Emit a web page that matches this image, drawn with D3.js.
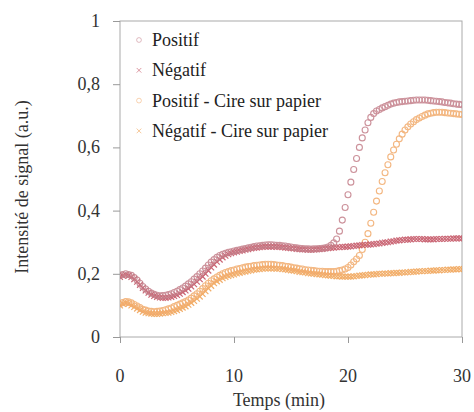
<!DOCTYPE html>
<html>
<head>
<meta charset="utf-8">
<script src="https://cdn.jsdelivr.net/npm/d3@7/dist/d3.min.js"></script>
<style>
  html, body { margin: 0; padding: 0; background: #fff; }
  svg { display: block; }
</style>
</head>
<body>
<svg id="chart" width="474" height="412"></svg>
<script>
// Signal intensity (a.u.) sampled every 0.25 min from 0 to 30 min
const sampleStep = 0.25;

const positif = [
  0.195, 0.198, 0.200, 0.198, 0.195, 0.188, 0.180, 0.170, 0.160, 0.152, 0.145, 0.139,
  0.135, 0.132, 0.130, 0.131, 0.132, 0.134, 0.137, 0.141, 0.145, 0.150, 0.155, 0.161,
  0.168, 0.175, 0.183, 0.191, 0.200, 0.209, 0.218, 0.228, 0.237, 0.245, 0.252, 0.258,
  0.262, 0.265, 0.268, 0.270, 0.272, 0.274, 0.276, 0.278, 0.280, 0.282, 0.284, 0.286,
  0.288, 0.289, 0.290, 0.291, 0.292, 0.292, 0.291, 0.290, 0.290, 0.289, 0.288, 0.286,
  0.285, 0.283, 0.282, 0.281, 0.280, 0.279, 0.279, 0.278, 0.279, 0.279, 0.280, 0.281,
  0.282, 0.285, 0.290, 0.298, 0.310, 0.335, 0.370, 0.410, 0.450, 0.490, 0.530, 0.565,
  0.600, 0.630, 0.655, 0.678, 0.695, 0.707, 0.715, 0.720, 0.725, 0.729, 0.733, 0.737,
  0.740, 0.742, 0.744, 0.745, 0.746, 0.747, 0.748, 0.749, 0.750, 0.750, 0.750, 0.750,
  0.749, 0.748, 0.747, 0.746, 0.745, 0.744, 0.742, 0.741, 0.740, 0.738, 0.737, 0.736,
  0.735
];

const negatif = [
  0.190, 0.194, 0.197, 0.194, 0.190, 0.183, 0.175, 0.165, 0.155, 0.147, 0.140, 0.134,
  0.130, 0.127, 0.125, 0.124, 0.124, 0.125, 0.127, 0.130, 0.133, 0.137, 0.142, 0.147,
  0.153, 0.160, 0.167, 0.175, 0.183, 0.191, 0.200, 0.210, 0.220, 0.229, 0.238, 0.245,
  0.252, 0.257, 0.262, 0.265, 0.268, 0.270, 0.272, 0.274, 0.276, 0.278, 0.280, 0.282,
  0.283, 0.284, 0.285, 0.286, 0.286, 0.286, 0.286, 0.285, 0.285, 0.284, 0.283, 0.282,
  0.281, 0.280, 0.279, 0.278, 0.277, 0.277, 0.276, 0.276, 0.277, 0.277, 0.278, 0.279,
  0.280, 0.281, 0.282, 0.283, 0.284, 0.284, 0.285, 0.285, 0.286, 0.287, 0.288, 0.289,
  0.290, 0.291, 0.292, 0.292, 0.293, 0.294, 0.295, 0.296, 0.298, 0.299, 0.300, 0.302,
  0.303, 0.305, 0.306, 0.307, 0.308, 0.308, 0.309, 0.310, 0.310, 0.310, 0.310, 0.309,
  0.309, 0.309, 0.309, 0.310, 0.310, 0.310, 0.311, 0.311, 0.311, 0.312, 0.312, 0.312,
  0.312
];

const positifCire = [
  0.105, 0.109, 0.112, 0.111, 0.108, 0.103, 0.098, 0.093, 0.088, 0.085, 0.082, 0.081,
  0.080, 0.081, 0.082, 0.084, 0.086, 0.089, 0.092, 0.096, 0.100, 0.104, 0.108, 0.112,
  0.117, 0.123, 0.130, 0.137, 0.145, 0.153, 0.162, 0.170, 0.178, 0.184, 0.190, 0.195,
  0.200, 0.204, 0.207, 0.210, 0.212, 0.215, 0.217, 0.219, 0.221, 0.223, 0.224, 0.226,
  0.227, 0.228, 0.229, 0.230, 0.230, 0.230, 0.229, 0.228, 0.227, 0.226, 0.224, 0.223,
  0.221, 0.219, 0.218, 0.216, 0.215, 0.213, 0.212, 0.211, 0.210, 0.209, 0.208, 0.208,
  0.207, 0.207, 0.207, 0.207, 0.208, 0.210, 0.212, 0.215, 0.220, 0.228, 0.238, 0.247,
  0.258, 0.277, 0.300, 0.327, 0.360, 0.395, 0.430, 0.462, 0.492, 0.520, 0.545, 0.570,
  0.592, 0.610, 0.627, 0.642, 0.655, 0.665, 0.674, 0.681, 0.688, 0.693, 0.698, 0.702,
  0.706, 0.708, 0.710, 0.711, 0.711, 0.711, 0.710, 0.709, 0.708, 0.707, 0.706, 0.705,
  0.704
];

const negatifCire = [
  0.100, 0.105, 0.108, 0.105, 0.100, 0.095, 0.090, 0.085, 0.080, 0.077, 0.075, 0.074,
  0.073, 0.073, 0.074, 0.075, 0.076, 0.077, 0.079, 0.082, 0.085, 0.089, 0.093, 0.097,
  0.102, 0.108, 0.114, 0.121, 0.128, 0.136, 0.145, 0.154, 0.162, 0.170, 0.176, 0.181,
  0.186, 0.190, 0.193, 0.196, 0.198, 0.201, 0.203, 0.205, 0.207, 0.209, 0.211, 0.213,
  0.214, 0.215, 0.216, 0.217, 0.217, 0.217, 0.217, 0.216, 0.216, 0.215, 0.214, 0.212,
  0.211, 0.210, 0.208, 0.206, 0.205, 0.204, 0.202, 0.201, 0.200, 0.199, 0.198, 0.197,
  0.196, 0.195, 0.194, 0.193, 0.192, 0.192, 0.191, 0.191, 0.191, 0.191, 0.192, 0.193,
  0.194, 0.195, 0.196, 0.197, 0.198, 0.198, 0.199, 0.200, 0.200, 0.201, 0.201, 0.202,
  0.202, 0.203, 0.203, 0.204, 0.204, 0.205, 0.206, 0.206, 0.207, 0.208, 0.208, 0.209,
  0.209, 0.210, 0.210, 0.211, 0.211, 0.212, 0.212, 0.213, 0.213, 0.214, 0.214, 0.215,
  0.215
];

const seriesNames = ["Positif", "Négatif", "Positif - Cire sur papier", "Négatif - Cire sur papier"];
const xTicks = [0, 10, 20, 30];
const yTicks = [0, 0.2, 0.4, 0.6, 0.8, 1];
const xTitle = "Temps (min)";
const yTitle = "Intensité de signal (a.u.)";

const series = [
  { name: seriesNames[0], values: positif,     shape: "circle", color: "#c47f8a" },
  { name: seriesNames[1], values: negatif,     shape: "cross",  color: "#c24d5e" },
  { name: seriesNames[2], values: positifCire, shape: "circle", color: "#f2ab6c" },
  { name: seriesNames[3], values: negatifCire, shape: "cross",  color: "#f0a050" }
];

const FONT = "'Liberation Serif', 'Times New Roman', serif";
const svg = d3.select("#chart");
const plot = { left: 120, right: 462, top: 21, bottom: 337 };

const x = d3.scaleLinear().domain([0, 30]).range([plot.left, plot.right]);
const y = d3.scaleLinear().domain([0, 1]).range([plot.bottom, plot.top]);
const fmt = v => d3.format("")(v).replace(".", ",");

// serif label at 18px
function label(parent, px, py, anchor, str, fill) {
  return parent.append("text")
    .attr("x", px).attr("y", py)
    .attr("text-anchor", anchor)
    .attr("fill", fill || "#333")
    .style("font-family", FONT).style("font-size", "18px")
    .text(str);
}

// frame
svg.append("rect")
  .attr("x", plot.left).attr("y", plot.top)
  .attr("width", plot.right - plot.left).attr("height", plot.bottom - plot.top)
  .attr("fill", "none").attr("stroke", "#aaa").attr("stroke-width", 1);

// axes: tick marks from d3, labels as serif text
const xAxis = svg.append("g")
  .attr("transform", `translate(0,${plot.bottom})`)
  .call(d3.axisBottom(x).tickValues(xTicks).tickSize(6).tickFormat(""));
const yAxis = svg.append("g")
  .attr("transform", `translate(${plot.left},0)`)
  .call(d3.axisLeft(y).tickValues(yTicks).tickSize(7).tickFormat(""));
[xAxis, yAxis].forEach(g => {
  g.select(".domain").remove();
  g.selectAll(".tick line").attr("stroke", "#999");
  g.selectAll(".tick text").remove();
});
xTicks.forEach(t => label(svg, x(t), 382, "middle", fmt(t)));
yTicks.forEach(t => label(svg, plot.left - 20, y(t) + 6, "end", fmt(t)));

// axis titles
label(svg, (plot.left + plot.right) / 2 - 12, 406, "middle", xTitle);
label(svg.append("g").attr("transform", `translate(28,${(plot.top + plot.bottom) / 2 + 8}) rotate(-90)`),
      0, 0, "middle", yTitle);

// markers
const crossPath = s => `M${-s},${-s}L${s},${s}M${-s},${s}L${s},${-s}`;
function drawMarker(g, shape, color) {
  if (shape === "circle") {
    g.append("circle").attr("r", 3).attr("fill", "none")
      .attr("stroke", color).attr("stroke-width", 1.1);
  } else {
    g.append("path").attr("d", crossPath(2.9)).attr("fill", "none")
      .attr("stroke", color).attr("stroke-width", 1.2);
  }
}

svg.append("clipPath").attr("id", "plotclip")
  .append("rect").attr("x", plot.left).attr("y", plot.top)
  .attr("width", plot.right - plot.left).attr("height", plot.bottom - plot.top);

const marks = svg.append("g").attr("clip-path", "url(#plotclip)");
// wax series underneath, then the plain ones
[3, 2, 1, 0].forEach(i => {
  const s = series[i];
  const g = marks.append("g").attr("opacity", 0.85);
  s.values.forEach((v, k) => {
    const m = g.append("g")
      .attr("transform", `translate(${x(k * sampleStep)},${y(v)})`);
    drawMarker(m, s.shape, s.color);
  });
});

// legend
const legend = svg.append("g");
series.forEach((s, i) => {
  const row = legend.append("g").attr("transform", `translate(139,${40 + i * 30.3})`);
  drawMarker(row.append("g").attr("opacity", 0.6).attr("transform", "scale(0.8)"), s.shape, s.color);
  label(row, 13, 6, "start", s.name, "#222");
});
</script>
</body>
</html>
